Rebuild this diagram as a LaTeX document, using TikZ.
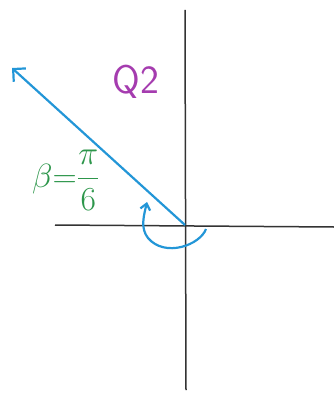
\documentclass[tikz,border=0pt]{standalone}
\usepackage{amsmath,amssymb}
\usepackage{graphicx}
\usepackage{tikz}
\usetikzlibrary{arrows.meta}
\usepackage{xcolor}
\definecolor{rayblue}{RGB}{35,150,215}
\definecolor{quadpurple}{RGB}{165,60,175}
\definecolor{anglegreen}{RGB}{45,150,75}

\begin{document}
\begin{tikzpicture}[x=1pt,y=-1pt]
\useasboundingbox (0,0) rectangle (334,393);
% axes
\coordinate (O) at (185,225);
\coordinate (top) at (185,10);
\coordinate (bot) at (186,390);
\coordinate (left) at (55,225);
\coordinate (right) at (334,227);
\draw[line width=1.5pt,black!80] (top) -- (bot);
\draw[line width=1.5pt,black!80] (left) -- (right);
% terminal ray
\coordinate (tip) at (12,68);
\draw[line width=2.2pt,rayblue,-{Straight Barb[length=9pt,width=18pt]}] (O) -- (tip);
% labels
\node (q2) at (136,82) [font=\sffamily\fontsize{40}{40}\selectfont,text=quadpurple] {Q2};
\node (beta) at (66,180) [font=\fontsize{24}{24}\selectfont,text=anglegreen,inner sep=0pt] {\scalebox{1.35}{$\beta{=}\dfrac{\pi}{6}$}};
% rotation arrow
\coordinate (arcstart) at (206,229);
\coordinate (arcend) at (147,202);
\draw[line width=2.2pt,rayblue,-{Straight Barb[length=6pt,width=10pt]}] (arcstart) .. controls (200,245) and (165,258) .. (148,238) .. controls (140,228) and (144,215) .. (arcend);
\end{tikzpicture}
\end{document}
